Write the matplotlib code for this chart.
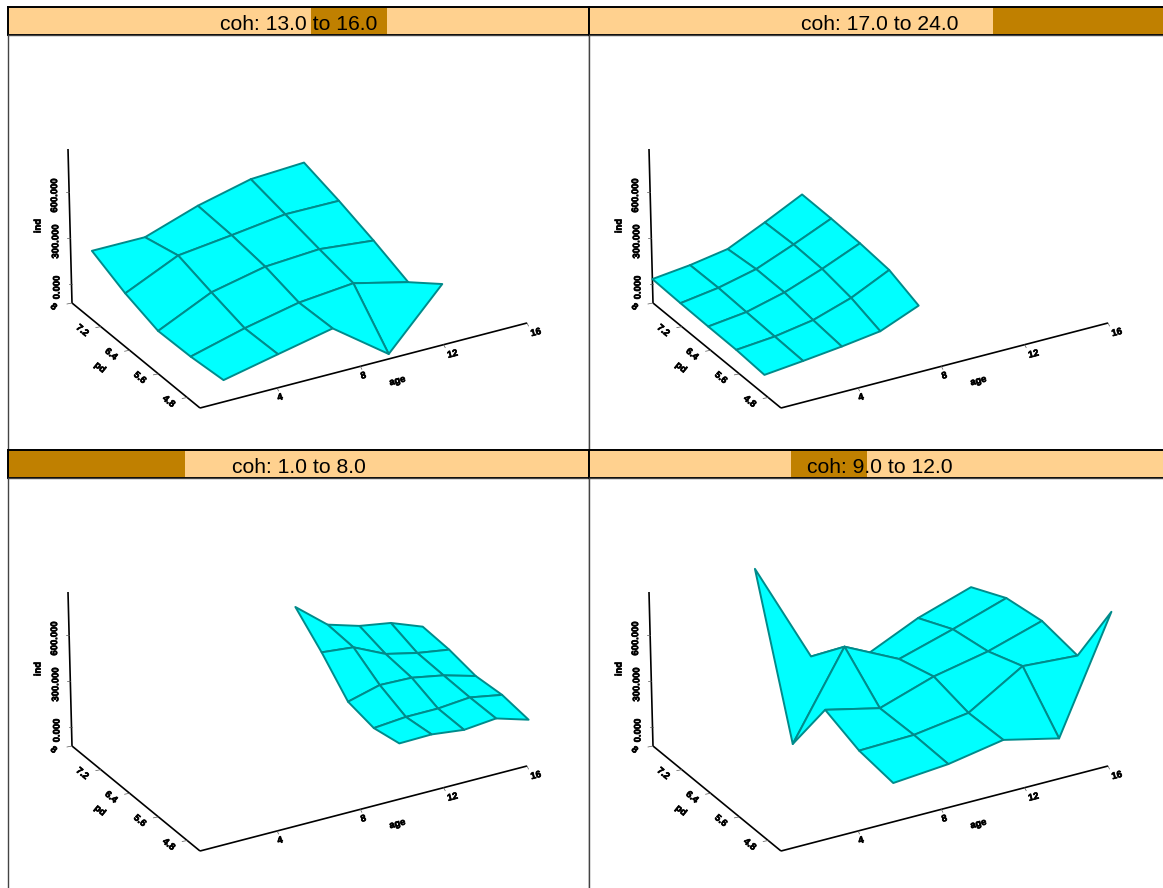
import numpy as np
import matplotlib
matplotlib.use('Agg')
import matplotlib.pyplot as plt
import matplotlib.patheffects as pe
from matplotlib.collections import PolyCollection

plt.rcParams['font.family'] = ['Liberation Sans', 'DejaVu Sans']

W, H = 1163, 888

# panel order: top left, top right, bottom left, bottom right
coh_ranges = [(13, 16), (17, 24), (1, 8), (9, 12)]

age_p1 = [1.45, 4.08, 6.72, 9.36, 12.0]
pd_p1 = [4.44, 5.35, 6.25, 7.15, 8.06]
ind_p1 = [[18, -4, -10, 62, 164],
          [94, 88, 149, 216, 160],
          [169, 162, 223, 255, 272],
          [-91, 195, 244, 298, 352],
          [272, 109, 207, 293, 367]]

age_p2 = [0.3, 2.17, 4.04, 5.9, 7.77]
pd_p2 = [4.89, 5.67, 6.45, 7.22, 8.0]
ind_p2 = [[6, 19, 21, 25, 32],
          [31, 40, 49, 59, 57],
          [59, 81, 111, 115, 96],
          [93, 160, 199, 210, 204],
          [194, 276, 300, 313, 320]]

age_p3 = [9.81, 11.36, 12.91, 14.45, 16.0]
pd_p3 = [4.37, 5.05, 5.73, 6.41, 7.09]
ind_p3 = [[256, 225, 266, 457, 622],
          [260, 243, 320, 435, 452],
          [235, 243, 313, 337, 389],
          [255, 261, 274, 289, 354],
          [192, 223, 215, 256, 275]]

age_p4 = [5.61, 8.26, 10.91, 13.57, 16.22]
pd_p4 = [4.37, 5.29, 6.2, 7.12, 8.04]
ind_p4 = [[146, 180, 271, -129, 836],
          [176, 189, 188, 412, 171],
          [240, 239, 301, 238, 81],
          [156, 450, 371, 338, 234],
          [888, 425, 476, 448, 342]]

ages = [age_p1, age_p2, age_p3, age_p4]
pds = [pd_p1, pd_p2, pd_p3, pd_p4]
inds = [ind_p1, ind_p2, ind_p3, ind_p4]

age_ticks = [4, 8, 12, 16]
pd_ticks = [4.8, 5.6, 6.4, 7.2, 8.0]
pd_tick_labels = ['4.8', '5.6', '6.4', '7.2', '8']
ind_ticks = [0, 300, 600]

age_lim = (0.3, 16.0)
pd_lim = (4.444, 8.0)
ind_lim = (-124, 880)


# same view for every panel, result is in pixels from the front corner of the box
def project(age, pd, ind):
    u = (np.asarray(age, float) - age_lim[0]) / (age_lim[1] - age_lim[0])
    v = (np.asarray(pd, float) - pd_lim[0]) / (pd_lim[1] - pd_lim[0])
    w = (np.asarray(ind, float) - ind_lim[0]) / (ind_lim[1] - ind_lim[0])
    x = 327 * u - 128 * v - 10 * u * v - 4 * w
    y = 85 * u + 105 * v + 154 * w
    return x, y


def px_axes(fig, x0, y0, x1, y1):
    return fig.add_axes([x0 / W, 1 - y1 / H, (x1 - x0) / W, (y1 - y0) / H])


def draw_box(ax):
    a0, a1 = age_lim
    p0, p1 = pd_lim
    z0, z1 = ind_lim
    corners = [(a0, p0, z0), (a1, p0, z0), (a0, p1, z0), (a0, p1, z1)]
    xs, ys = zip(*[project(*c) for c in corners])
    for i, j in [(0, 1), (0, 2), (2, 3)]:
        ax.plot([xs[i], xs[j]], [ys[i], ys[j]], color='black', lw=1.2, solid_capstyle='butt')

    # the labels in the original are small and smeared, a thin stroke gets that weight
    txt = dict(fontsize=6.8, fontweight='bold', ha='center', va='center', rotation_mode='anchor',
               path_effects=[pe.withStroke(linewidth=0.5, foreground='black')])
    for t in age_ticks:
        x, y = project(t, p0, z0)
        ax.plot([x, x + 1.5], [y, y - 3], color='#555555', lw=0.5)
        off = 3 if t < 10 else 9
        ax.text(x + off, y - 9.5, str(t), rotation=14.6, **txt)
    for t, lab in zip(pd_ticks, pd_tick_labels):
        x, y = project(a0, t, z0)
        ax.plot([x, x - 5], [y, y - 1], color='#555555', lw=0.5)
        ax.text(x - 18.5, y - 4, lab, rotation=-39.4, **txt)
    for t in ind_ticks:
        x, y = project(a0, p1, t)
        ax.plot([x, x - 3], [y, y], color='#555555', lw=0.5)
        ax.text(x - 14.5, y - 3.5, '%.3f' % t, rotation=90, **txt)

    x, y = project(a1 * 0.62, p0, z0)
    ax.text(x - 3, y - 25, 'age', rotation=14.6, **txt)
    x, y = project(a0, (p0 + p1) / 2, z0)
    ax.text(x - 36, y - 12, 'pd', rotation=-39.4, **txt)
    x, y = project(a0, p1, (z0 + z1) / 2)
    ax.text(x - 32, y, 'ind', rotation=90, **txt)


def draw_surface(ax, age, pd, ind):
    A, P = np.meshgrid(age, pd, indexing='ij')
    X, Y = project(A, P, np.array(ind))
    # far corner first, the near quads paint over it
    quads = []
    for i in range(len(age) - 2, -1, -1):
        for j in range(len(pd) - 2, -1, -1):
            quads.append([(X[i, j], Y[i, j]), (X[i + 1, j], Y[i + 1, j]),
                          (X[i + 1, j + 1], Y[i + 1, j + 1]), (X[i, j + 1], Y[i, j + 1])])
    ax.add_collection(PolyCollection(quads, facecolor='#00ffff', edgecolor='#008b8b',
                                     linewidth=1.4, joinstyle='round', zorder=3))


fig = plt.figure(figsize=(W / 100, H / 100), dpi=100)

col_x = [(8, 589), (589, 1170), (8, 589), (589, 1170)]
row_y = [(7, 35, 450), (7, 35, 450), (450, 478, 893), (450, 478, 893)]

for n in range(4):
    x0, x1 = col_x[n]
    y_top, y_mid, y_bot = row_y[n]

    # strip with the shingle range for coh
    sx = px_axes(fig, x0, y_top, x1, y_mid)
    sx.set_xlim(1, 24)
    sx.set_ylim(0, 1)
    sx.set_facecolor('#ffd18f')
    lo, hi = coh_ranges[n]
    sx.axvspan(lo, hi, color='#c08000', lw=0)
    sx.text(12.5, 0.37, 'coh: %.1f to %.1f' % (lo, hi), fontsize=15.2, ha='center', va='center',
            color='black')
    sx.set_xticks([])
    sx.set_yticks([])
    for s in sx.spines.values():
        s.set_linewidth(1.4)

    # panel, units are pixels from the front corner of the box
    ax = px_axes(fig, x0, y_mid, x1, y_bot)
    ox = x0 + 192
    oy = y_mid + 373
    ax.set_xlim(x0 - ox, x1 - ox)
    ax.set_ylim(oy - y_bot, oy - y_mid)
    ax.set_xticks([])
    ax.set_yticks([])
    for s in ax.spines.values():
        s.set_linewidth(1.0)
        s.set_color('#444444')

    draw_box(ax)
    draw_surface(ax, ages[n], pds[n], inds[n])

fig.savefig('out.png', dpi=100)
